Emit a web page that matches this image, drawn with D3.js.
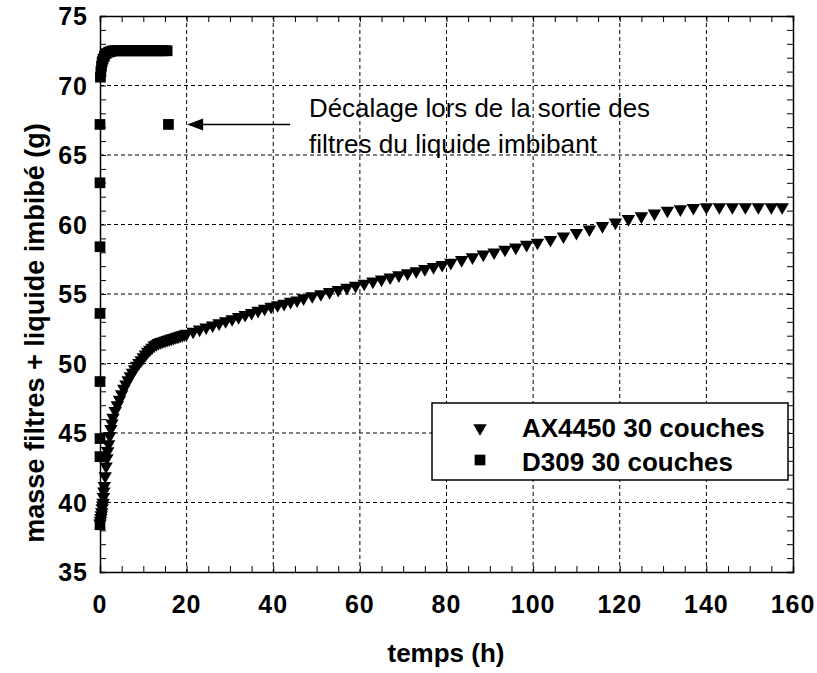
<!DOCTYPE html>
<html>
<head>
<meta charset="utf-8">
<script src="https://cdn.jsdelivr.net/npm/d3@7"></script>
<style>
  body { margin: 0; background: #fff; }
  text { font-family: "Liberation Sans", Arial, sans-serif; }
</style>
</head>
<body>
<div id="chart"></div>
<script>
// data
var axTime = [0, 0.1, 0.2, 0.3, 0.4, 0.5, 0.6, 0.7, 0.8, 0.9, 1, 1.2, 1.4, 1.6, 1.8, 2, 2.25, 2.5, 2.75, 3,
  3.5, 4, 4.5, 5, 5.5, 6, 6.5, 7, 7.5, 8, 8.5, 9, 9.5, 10, 10.5, 11, 11.5, 12, 12.5, 13,
  13.5, 14, 14.5, 15, 15.5, 16, 16.5, 17, 17.5, 18, 18.5, 19, 19.5, 20, 21.5, 23, 24.5, 26, 27.5, 29,
  30.5, 32, 33.5, 35, 36.5, 38, 39.5, 41, 42.5, 44, 45.5, 47, 49, 51, 53, 55, 57, 59, 61, 63,
  65, 67, 69, 71, 73, 75, 77, 79, 81, 83.5, 86, 88.5, 91, 93.5, 96, 98.5, 101, 104, 107, 110,
  113, 116, 119, 122, 125, 128, 131, 134, 137, 140, 143, 146, 149, 152, 155, 157.5]
var axMass = [38.5, 38.7, 38.9, 39.1, 39.3, 39.6, 39.8, 40.0, 40.4, 40.8, 41.2, 41.9, 42.6, 43.2, 43.7, 44.2, 44.8, 45.3, 45.7, 46.1,
  46.6, 47.0, 47.4, 47.8, 48.2, 48.5, 48.8, 49.1, 49.35, 49.6, 49.85, 50.05, 50.25, 50.45, 50.65, 50.85, 51.0, 51.15, 51.3, 51.4,
  51.48, 51.55, 51.6, 51.65, 51.7, 51.75, 51.8, 51.85, 51.9, 51.95, 52.0, 52.05, 52.1, 52.15, 52.3, 52.45, 52.6, 52.75, 52.9, 53.05,
  53.2, 53.35, 53.5, 53.65, 53.8, 53.95, 54.1, 54.2, 54.3, 54.45, 54.55, 54.7, 54.85, 55.0, 55.15, 55.3, 55.45, 55.6, 55.75, 55.9,
  56.05, 56.2, 56.35, 56.5, 56.65, 56.8, 56.95, 57.1, 57.25, 57.45, 57.65, 57.85, 58.0, 58.2, 58.35, 58.55, 58.7, 58.9, 59.15, 59.4,
  59.65, 59.9, 60.15, 60.4, 60.6, 60.8, 61.0, 61.1, 61.2, 61.25, 61.25, 61.25, 61.25, 61.25, 61.25, 61.25]

var dTime = [0, 0, 0, 0, 0, 0, 0, 0, 0.1, 0.2, 0.35, 0.5, 0.7, 1, 1.4, 2, 2.5, 3, 3.5, 4,
  4.5, 5, 5.5, 6, 6.5, 7, 7.5, 8, 8.5, 9, 9.5, 10, 10.5, 11, 11.5, 12, 12.5, 13, 13.5, 14,
  14.5, 15, 15.5, 15.8]
var dMass = [38.4, 43.3, 44.6, 48.7, 53.6, 58.4, 63.0, 67.2, 70.6, 71.0, 71.4, 71.7, 71.9, 72.1, 72.3, 72.4, 72.45, 72.5, 72.5, 72.5,
  72.5, 72.5, 72.5, 72.5, 72.5, 72.5, 72.5, 72.5, 72.5, 72.5, 72.5, 72.5, 72.5, 72.5, 72.5, 72.5, 72.5, 72.5, 72.5, 72.5,
  72.5, 72.5, 72.5, 67.2]

var xTicks = [0, 20, 40, 60, 80, 100, 120, 140, 160]
var yTicks = [35, 40, 45, 50, 55, 60, 65, 70, 75]
var seriesNames = ["AX4450 30 couches", "D309 30 couches"]
var noteLines = ["Décalage lors de la sortie des", "filtres du liquide imbibant"]
var noteAt = {t: 15.5, v: 67.2}

var margin = {top: 16, right: 24, bottom: 101, left: 100},
    width = 693,
    height = 556

var svg = d3.select("#chart")
  .append("svg")
    .attr("width", 817)
    .attr("height", 673)
  .append("g")
    .attr("transform", "translate(" + margin.left + "," + margin.top + ")")

var x = d3.scaleLinear().domain([0, 160]).range([0, width])
var y = d3.scaleLinear().domain([35, 75]).range([height, 0])

// grid
svg.append("g").selectAll("line.gx")
  .data(xTicks.slice(1, -1))
  .enter().append("line")
    .attr("x1", d => x(d)).attr("x2", d => x(d))
    .attr("y1", 0).attr("y2", height)
    .attr("stroke", "#000").attr("stroke-dasharray", "4,3")
svg.append("g").selectAll("line.gy")
  .data(yTicks.slice(1, -1))
  .enter().append("line")
    .attr("y1", d => y(d)).attr("y2", d => y(d))
    .attr("x1", 0).attr("x2", width)
    .attr("stroke", "#000").attr("stroke-dasharray", "4,3")

// axes: minor ticks pointing inward
var xMinor = d3.range(0, 161, 5)
var yMinor = d3.range(35, 76, 1)

var axB = svg.append("g").attr("transform", "translate(0," + height + ")")
  .call(d3.axisTop(x).tickValues(xMinor).tickSize(6).tickFormat(""))
var axT = svg.append("g")
  .call(d3.axisBottom(x).tickValues(xMinor).tickSize(6).tickFormat(""))
var axL = svg.append("g")
  .call(d3.axisRight(y).tickValues(yMinor).tickSize(6).tickFormat(""))
var axR = svg.append("g").attr("transform", "translate(" + width + ",0)")
  .call(d3.axisLeft(y).tickValues(yMinor).tickSize(6).tickFormat(""))
;[axB, axT, axL, axR].forEach(function(g) {
  g.selectAll("path").attr("stroke", "#000").attr("stroke-width", 1.5)
})

// tick labels
svg.append("g").selectAll("text")
  .data(xTicks)
  .enter().append("text")
    .attr("x", d => x(d))
    .attr("y", height + 41)
    .attr("text-anchor", "middle")
    .style("font-size", "25px").style("font-weight", "bold")
    .style("letter-spacing", "1px")
    .text(d => d)
svg.append("g").selectAll("text")
  .data(yTicks)
  .enter().append("text")
    .attr("x", -12)
    .attr("y", d => y(d) + 9)
    .attr("text-anchor", "end")
    .style("font-size", "25px").style("font-weight", "bold")
    .style("letter-spacing", "1px")
    .text(d => d)

// axis titles
svg.append("text")
  .attr("x", 346).attr("y", 646)
  .attr("text-anchor", "middle")
  .style("font-size", "26px").style("font-weight", "bold")
  .text("temps (h)")
svg.append("text")
  .attr("transform", "translate(-56," + 317 + ") rotate(-90)")
  .attr("text-anchor", "middle")
  .style("font-size", "27px").style("font-weight", "bold")
  .text("masse filtres + liquide imbibé (g)")

// points
var tri = d3.symbol().type(d3.symbolTriangle).size(78)
var sq = d3.symbol().type(d3.symbolSquare).size(115)

svg.append("g").selectAll("path")
  .data(d3.zip(axTime, axMass))
  .enter().append("path")
    .attr("d", tri)
    .attr("transform", d => "translate(" + x(d[0]) + "," + y(d[1]) + ") rotate(180)")
    .attr("fill", "#000")

svg.append("g").selectAll("path")
  .data(d3.zip(dTime, dMass))
  .enter().append("path")
    .attr("d", sq)
    .attr("transform", d => "translate(" + x(d[0]) + "," + y(d[1]) + ")")
    .attr("fill", "#000")

// annotation arrow + note
var ay = y(noteAt.v)
svg.append("line")
  .attr("x1", x(noteAt.t) + 30).attr("x2", x(noteAt.t) + 123)
  .attr("y1", ay).attr("y2", ay)
  .attr("stroke", "#000").attr("stroke-width", 1.5)
svg.append("path")
  .attr("d", "M" + (x(noteAt.t) + 20) + "," + ay + " l16,-6 l0,12 z")
  .attr("fill", "#000")
svg.append("g").selectAll("text")
  .data(noteLines)
  .enter().append("text")
    .attr("x", 209)
    .attr("y", (d, i) => 101 + i * 36)
    .attr("textLength", (d, i) => i == 0 ? 341 : 288)
    .attr("lengthAdjust", "spacingAndGlyphs")
    .style("font-size", "25px")
    .text(d => d)

// legend
var lg = svg.append("g")
lg.append("rect")
  .attr("x", 332).attr("y", 387)
  .attr("width", 356).attr("height", 77)
  .attr("fill", "#fff").attr("stroke", "#000").attr("stroke-width", 1.5)
lg.selectAll("path")
  .data(seriesNames)
  .enter().append("path")
    .attr("d", (d, i) => i == 0 ? tri() : sq())
    .attr("transform", (d, i) => "translate(380," + (412 + i * 32) + ")" + (i == 0 ? " rotate(180)" : ""))
    .attr("fill", "#000")
lg.selectAll("text")
  .data(seriesNames)
  .enter().append("text")
    .attr("x", 422)
    .attr("y", (d, i) => 421 + i * 34)
    .style("font-size", "26px").style("font-weight", "bold")
    .text(d => d)
</script>
</body>
</html>
